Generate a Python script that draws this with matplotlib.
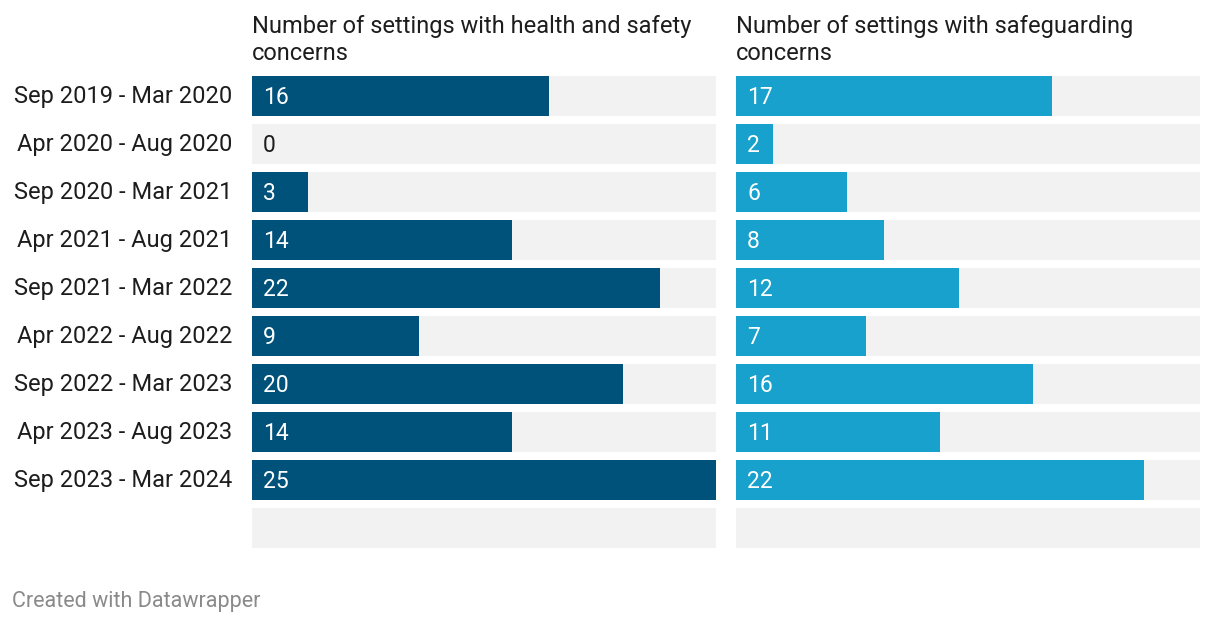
import matplotlib.pyplot as plt
import numpy as np

plt.rcParams['font.family'] = ['Roboto', 'DejaVu Sans']

periods = ['Sep 2019 - Mar 2020', 'Apr 2020 - Aug 2020', 'Sep 2020 - Mar 2021',
           'Apr 2021 - Aug 2021', 'Sep 2021 - Mar 2022', 'Apr 2022 - Aug 2022',
           'Sep 2022 - Mar 2023', 'Apr 2023 - Aug 2023', 'Sep 2023 - Mar 2024', '']
health_safety = [16, 0, 3, 14, 22, 9, 20, 14, 25, None]
safeguarding = [17, 2, 6, 8, 12, 7, 16, 11, 22, None]
titles = [['Number of settings with health and safety', 'concerns'],
          ['Number of settings with safeguarding', 'concerns']]
colors = ['#00527a', '#18a1cd']
scale_max = 25

W, H = 1220, 624
fig = plt.figure(figsize=(W / 100, H / 100), dpi=100)
fig.patch.set_facecolor('white')

n = len(periods)
y = np.arange(n)
bar_h = 40 / 48

panels = [(252, health_safety), (736, safeguarding)]
for k, (x0, vals) in enumerate(panels):
    ax = fig.add_axes([x0 / W, (H - 548) / H, 464 / W, 472 / H])
    ax.barh(y, [scale_max] * n, height=bar_h, color='#f2f2f2')
    v = [0 if a is None else a for a in vals]
    ax.barh(y, v, height=bar_h, color=colors[k])
    for i, a in enumerate(vals):
        if a is None:
            continue
        tc = 'white' if a > 0 else '#1d1d1d'
        ax.annotate(str(a), (0, i), xytext=(11, -1), textcoords='offset pixels',
                    ha='left', va='center', color=tc, fontsize=16.5)
    ax.set_xlim(0, scale_max)
    ax.set_ylim(n - 1 + bar_h / 2, -bar_h / 2)
    ax.axis('off')
    for j, line in enumerate(titles[k]):
        fig.text(x0 / W, 1 - (26 + 28 * j) / H, line, ha='left', va='center',
                 fontsize=17, color='#1d1d1d')
    if k == 0:
        for i, p in enumerate(periods):
            ax.annotate(p, (0, i), xytext=(-20, -1), textcoords='offset pixels',
                        ha='right', va='center', color='#1d1d1d', fontsize=17,
                        annotation_clip=False)

fig.text(12 / W, 1 - 602 / H, 'Created with Datawrapper', ha='left', va='center',
         fontsize=15.5, color='#8a8a8a')

fig.savefig('out.png', dpi=100)
